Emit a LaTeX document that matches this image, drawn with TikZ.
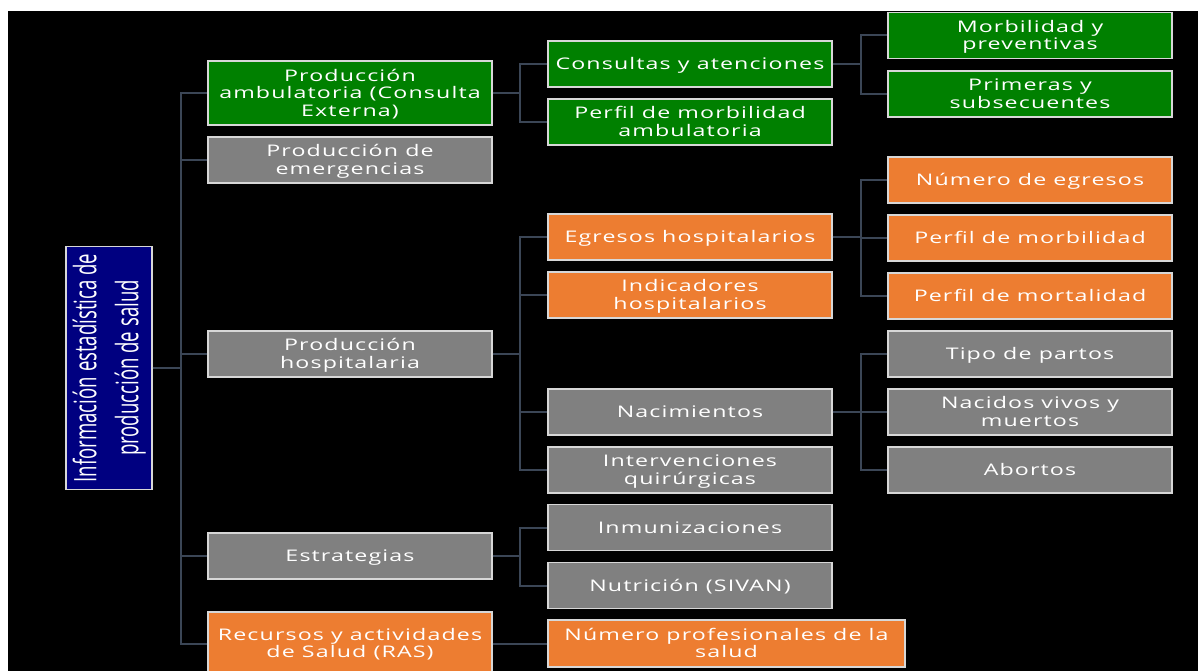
\documentclass[tikz,border=0pt]{standalone}
\usepackage{fontspec}
\setmainfont{Open Sans}[FakeStretch=1.45, LetterSpace=7]
\newfontfamily\rootfont{Open Sans}[FakeStretch=0.6]
\definecolor{boxgreen}{RGB}{0,128,0}
\definecolor{boxgray}{RGB}{128,128,128}
\definecolor{boxorange}{RGB}{237,125,49}
\definecolor{boxnavy}{RGB}{0,0,128}
\definecolor{linkcol}{RGB}{59,70,86}
\definecolor{edgecol}{RGB}{215,215,215}
% centred lines of box text, lowered so the capitals sit in the middle of the box
\newcommand{\boxtext}[1]{\raisebox{-2.2pt}[\height][\depth]{%
  \begin{tabular}{@{}c@{}}#1\end{tabular}}}
\tikzset{
  box/.style={draw=edgecol, line width=1.2pt, text=white,
    minimum width=284pt, minimum height=46pt, inner sep=1pt,
    font=\fontsize{16}{17.5}\selectfont},
  greenbox/.style={box, fill=boxgreen},
  graybox/.style={box, fill=boxgray},
  orangebox/.style={box, fill=boxorange},
  link/.style={draw=linkcol, line width=2pt},
}
\begin{document}
\begin{tikzpicture}[x=1pt,y=1pt]
\useasboundingbox (0,0) rectangle (1198,-671);
\clip (0,0) rectangle (1198,-671);
\fill[white] (0,0) rectangle (1198,-671);
\fill[black] (8,-11) rectangle (1198,-671);

% root
\node[draw=edgecol, line width=1.2pt, fill=boxnavy, text=white,
  minimum width=86pt, minimum height=243pt, inner sep=0pt] (root) at (109,-368)
  {\rotatebox{90}{\rootfont\fontsize{31}{42}\selectfont
   \begin{tabular}{@{}c@{}}Información estadística de\\ producción de salud\end{tabular}}};

% first level
\node[greenbox, minimum height=64pt] (amb) at (350,-93) {\boxtext{Producción\\ambulatoria (Consulta\\Externa)}};
\node[graybox] (emer) at (350,-160) {\boxtext{Producción de\\emergencias}};
\node[graybox] (hosp) at (350,-354) {\boxtext{Producción\\hospitalaria}};
\node[graybox] (estr) at (350,-556) {\boxtext{Estrategias}};
\node[orangebox, minimum height=63pt] (ras) at (350,-643.5) {\boxtext{Recursos y actividades\\de Salud (RAS)}};

% second level
\node[greenbox] (cons) at (690,-64) {\boxtext{Consultas y atenciones}};
\node[greenbox] (perfamb) at (690,-122) {\boxtext{Perfil de morbilidad\\ambulatoria}};
\node[orangebox] (egr) at (690,-237) {\boxtext{Egresos hospitalarios}};
\node[orangebox] (ind) at (690,-295) {\boxtext{Indicadores\\hospitalarios}};
\node[graybox] (nac) at (690,-412) {\boxtext{Nacimientos}};
\node[graybox] (inter) at (690,-470) {\boxtext{Intervenciones\\quirúrgicas}};
\node[graybox] (inmu) at (690,-527.5) {\boxtext{Inmunizaciones}};
\node[graybox] (nutr) at (690,-585.5) {\boxtext{Nutrición (SIVAN)}};
\node[orangebox, minimum width=357pt, minimum height=47pt] (prof) at (726.5,-643.5) {\boxtext{Número profesionales de la\\salud}};

% third level
\node[greenbox] (morb) at (1030,-35.5) {\boxtext{Morbilidad y\\preventivas}};
\node[greenbox] (prim) at (1030,-94) {\boxtext{Primeras y\\subsecuentes}};
\node[orangebox] (negr) at (1030,-180) {\boxtext{Número de egresos}};
\node[orangebox] (pmorb) at (1030,-238) {\boxtext{Perfil de morbilidad}};
\node[orangebox] (pmort) at (1030,-296) {\boxtext{Perfil de mortalidad}};
\node[graybox] (tipo) at (1030,-354) {\boxtext{Tipo de partos}};
\node[graybox] (nvm) at (1030,-412) {\boxtext{Nacidos vivos y\\muertos}};
\node[graybox] (abor) at (1030,-470) {\boxtext{Abortos}};

% connectors
\coordinate (trunk) at (181,-368);
\draw[link] (root.east) -- (trunk);
\foreach \n in {amb,emer,hosp,estr,ras} \draw[link] (trunk) |- (\n.west);

\draw[link] (amb.east) -- ++(27,0) coordinate (ja);
\foreach \n in {cons,perfamb} \draw[link] (ja) |- (\n.west);
\draw[link] (hosp.east) -- ++(27,0) coordinate (jh);
\foreach \n in {egr,ind,nac,inter} \draw[link] (jh) |- (\n.west);
\draw[link] (estr.east) -- ++(27,0) coordinate (je);
\foreach \n in {inmu,nutr} \draw[link] (je) |- (\n.west);
\draw[link] (ras.east) -- (prof.west);

\draw[link] (cons.east) -- ++(28,0) coordinate (jc);
\foreach \n in {morb,prim} \draw[link] (jc) |- (\n.west);
\draw[link] (egr.east) -- ++(28,0) coordinate (jg);
\foreach \n in {negr,pmorb,pmort} \draw[link] (jg) |- (\n.west);
\draw[link] (nac.east) -- ++(28,0) coordinate (jn);
\foreach \n in {tipo,nvm,abor} \draw[link] (jn) |- (\n.west);
\end{tikzpicture}
\end{document}
